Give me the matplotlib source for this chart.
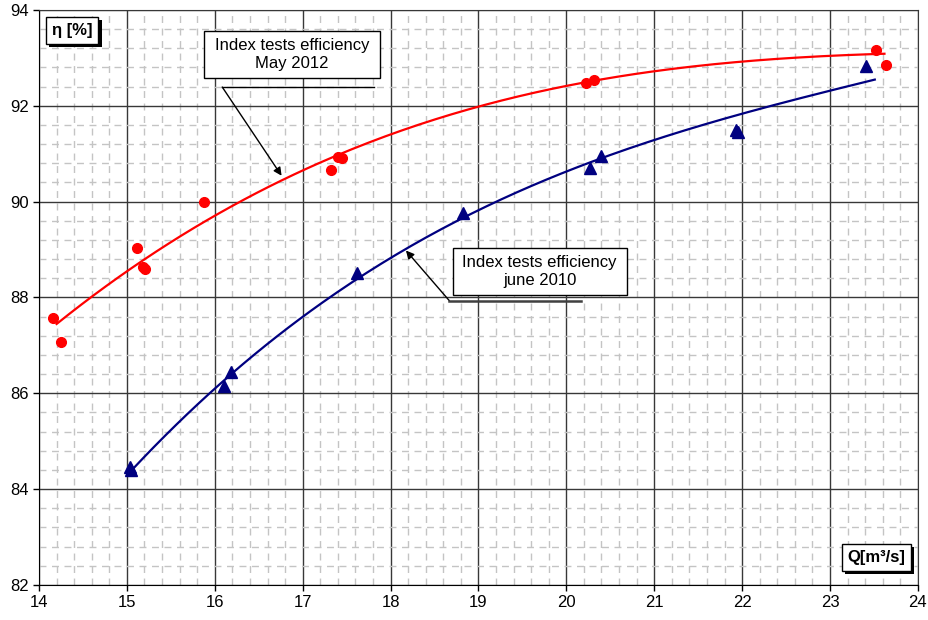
import numpy as np
import matplotlib.pyplot as plt
from matplotlib.ticker import MultipleLocator
from matplotlib.patches import Rectangle
import matplotlib.patheffects as pe

plt.rcParams['font.family'] = ['Liberation Sans', 'DejaVu Sans']
plt.rcParams['font.size'] = 12

# measured points, index tests May 2012
q_2012 = [14.16, 14.25, 15.11, 15.18, 15.21, 15.88, 17.32, 17.40, 17.45, 20.22, 20.31, 23.52, 23.64]
eta_2012 = [87.58, 87.06, 89.04, 88.63, 88.59, 89.99, 90.65, 90.93, 90.91, 92.47, 92.54, 93.17, 92.85]

# measured points, index tests june 2010
q_2010 = [15.04, 15.05, 16.10, 16.19, 17.62, 18.83, 20.27, 20.40, 21.93, 21.95, 23.41]
eta_2010 = [84.46, 84.40, 86.15, 86.45, 88.50, 89.77, 90.70, 90.95, 91.50, 91.46, 92.82]

# trend curves
curve_q_2012 = [14.20, 14.69, 15.0, 16.0, 16.8, 18.11, 19.0, 20.0, 21.0, 22.0, 23.0, 23.62]
curve_eta_2012 = [87.34, 88.19, 88.60, 89.81, 90.45, 91.37, 91.91, 92.46, 92.78, 92.94, 93.04, 93.06]
curve_q_2010 = [15.05, 16.0, 17.0, 18.0, 19.0, 19.93, 21.52, 22.0, 23.51]
curve_eta_2010 = [84.42, 86.04, 87.57, 88.87, 89.88, 90.52, 91.56, 91.85, 92.55]


def smooth(qs, etas, deg):
    c = np.polyfit(qs, etas, deg)
    xx = np.linspace(qs[0], qs[-1], 200)
    return xx, np.polyval(c, xx)


fig = plt.figure(figsize=(9.29, 6.2), dpi=100)
ax = fig.add_axes([0.042, 0.0565, 0.946, 0.9275])

ax.set_xlim(14, 24)
ax.set_ylim(82, 94)
ax.xaxis.set_major_locator(MultipleLocator(1))
ax.yaxis.set_major_locator(MultipleLocator(2))
ax.xaxis.set_minor_locator(MultipleLocator(0.2))
ax.yaxis.set_minor_locator(MultipleLocator(0.4))
ax.grid(which='minor', color='#c4c4c4', linestyle=(0, (5, 4)), linewidth=1)
ax.grid(which='major', color='#383838', linestyle='-', linewidth=1)
ax.set_axisbelow(True)
ax.tick_params(which='major', direction='out', length=4, width=1, labelsize=12, color='k')
ax.tick_params(which='minor', length=0)
for s in ['top', 'right']:
    ax.spines[s].set_color('#383838')
for s in ['left', 'bottom']:
    ax.spines[s].set_color('k')

xr, yr = smooth(curve_q_2012, curve_eta_2012, 3)
ax.plot(xr, yr, color='#ff0000', lw=1.6)
xb, yb = smooth(curve_q_2010, curve_eta_2010, 3)
ax.plot(xb, yb, color='#000080', lw=1.6)

ax.plot(q_2012, eta_2012, 'o', color='#ff0000', ms=7, mec='#ff0000')
ax.plot(q_2010, eta_2010, '^', color='#000080', ms=8, mec='#000080')

# axis labels in shadowed boxes
shadow = [pe.SimplePatchShadow(offset=(2.2, -2.2), shadow_rgbFace='k', alpha=1), pe.Normal()]
t1 = ax.text(0.038, 0.964, 'η [%]', transform=ax.transAxes, ha='center', va='center',
             fontweight='bold', fontsize=12,
             bbox=dict(boxstyle='square,pad=0.35', fc='white', ec='black', lw=1))
t1.get_bbox_patch().set_path_effects(shadow)
t2 = ax.text(0.953, 0.048, 'Q[m³/s]', transform=ax.transAxes, ha='center', va='center',
             fontweight='bold', fontsize=12,
             bbox=dict(boxstyle='square,pad=0.35', fc='white', ec='black', lw=1))
t2.get_bbox_patch().set_path_effects(shadow)

# callout boxes (axes fraction: x0, y0, w, h)
ax.add_patch(Rectangle((0.188, 0.881), 0.1995, 0.083, transform=ax.transAxes,
                       fc='white', ec='black', lw=1, zorder=5))
ax.text(0.2878, 0.9225, 'Index tests efficiency\nMay 2012', transform=ax.transAxes,
        ha='center', va='center', linespacing=1.25, zorder=6)
ax.add_patch(Rectangle((0.4707, 0.5038), 0.198, 0.0817, transform=ax.transAxes,
                       fc='white', ec='black', lw=1, zorder=5))
ax.text(0.5697, 0.5447, 'Index tests efficiency\njune 2010', transform=ax.transAxes,
        ha='center', va='center', linespacing=1.25, zorder=6)

# leader lines with arrows
ax.plot([16.085, 17.81], [92.39, 92.39], color='k', lw=1, zorder=4)
ax.annotate('', xy=(16.76, 90.54), xytext=(16.085, 92.39),
            arrowprops=dict(arrowstyle='-|>', color='k', lw=1, mutation_scale=12, shrinkA=0, shrinkB=0))
ax.plot([18.67, 20.17], [87.93, 87.93], color='#404040', lw=1.8, zorder=4)
ax.annotate('', xy=(18.175, 88.98), xytext=(18.67, 87.93),
            arrowprops=dict(arrowstyle='-|>', color='k', lw=1, mutation_scale=12, shrinkA=0, shrinkB=0))

fig.savefig('out.png', dpi=100)
